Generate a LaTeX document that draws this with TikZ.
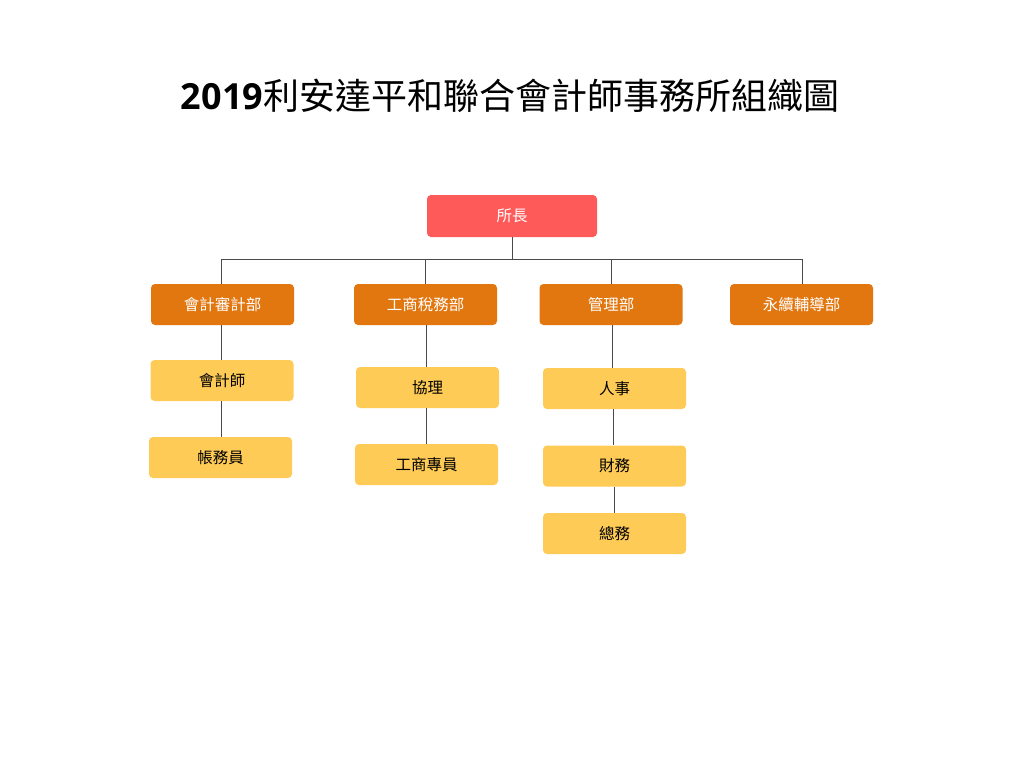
\documentclass[tikz,border=0pt]{standalone}
\usepackage{fontspec}
\setmainfont{Noto Sans CJK TC}
\newfontfamily\titledigits{Open Sans}
\usetikzlibrary{positioning, calc}
\definecolor{headred}{HTML}{FF5A5A}
\definecolor{deptorange}{HTML}{E2760F}
\definecolor{unityellow}{HTML}{FECB57}
\definecolor{linkgray}{HTML}{4A4A4A}
\tikzset{
    box/.style={rectangle, rounded corners=4pt, minimum width=143pt, minimum height=41pt,
      inner sep=0pt, font=\fontsize{15.5}{18}\selectfont},
    head/.style={box, fill=headred, text=white, minimum width=170pt, minimum height=42pt},
    dept/.style={box, fill=deptorange, text=white},
    unit/.style={box, fill=unityellow, text=black},
    link/.style={draw=linkgray, line width=1pt},
}
\begin{document}
\begin{tikzpicture}[x=1pt, y=-1pt]
    \useasboundingbox (0,0) rectangle (1024,768);

    \node (title) at (510,96) {\fontsize{36}{42}\selectfont{\titledigits\bfseries 2019}利安達平和聯合會計師事務所組織圖};

    \node[head] (boss) at (512,216) {所長};

    % departments
    \node[dept] (audit) at (222.5,304.5) {會計審計部};
    \node[dept] (tax)   at (425.5,304.5) {工商稅務部};
    \node[dept] (mgmt)  at (611,304.5)   {管理部};
    \node[dept] (esg)   at (801.5,304.5) {永續輔導部};

    % units
    \node[unit] (cpa)    at (222,380.5)   {會計師};
    \node[unit] (clerk)  at (220.5,457.5) {帳務員};
    \node[unit] (deputy) at (427.5,387.5) {協理};
    \node[unit] (agent)  at (426.5,464.5) {工商專員};
    \node[unit] (hr)     at (614.5,388.5) {人事};
    \node[unit] (fin)    at (614.5,466)   {財務};
    \node[unit] (gen)    at (614.5,533.5) {總務};

    \coordinate (bus)  at (512,259);
    \coordinate (busL) at (221,259);
    \coordinate (busR) at (802,259);
    \draw[link] (boss) -- (bus);
    \draw[link] (busL) -- (busR);
    \foreach \d/\x in {audit/221, tax/425, mgmt/611, esg/802}
      \draw[link] (\x,259) -- (\d.north -| \x,0);

    \draw[link] (cpa.north -| 221,0) -- (audit.south -| 221,0);
    \draw[link] (clerk.north -| 221,0) -- (cpa.south -| 221,0);
    \draw[link] (tax.south -| 426,0) -- (deputy.north -| 426,0);
    \draw[link] (deputy.south -| 426,0) -- (agent.north -| 426,0);
    \draw[link] (mgmt.south -| 612.5,0) -- (hr.north -| 612.5,0);
    \draw[link] (hr.south -| 613.5,0) -- (fin.north -| 613.5,0);
    \draw[link] (fin.south -| 614.5,0) -- (gen.north -| 614.5,0);

\end{tikzpicture}
\end{document}
